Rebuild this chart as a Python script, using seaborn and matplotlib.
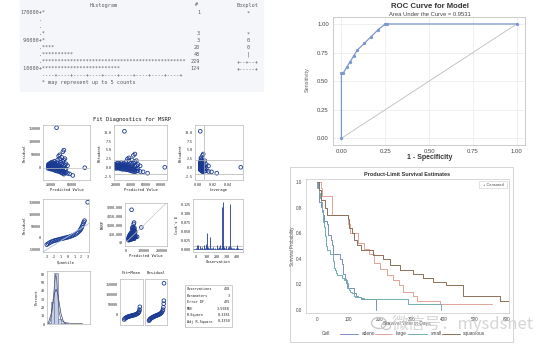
import math

import matplotlib
matplotlib.use("Agg")
import matplotlib.pyplot as plt
from matplotlib.lines import Line2D
from matplotlib.patches import Ellipse, Rectangle
import pandas as pd
import seaborn as sns

# --- data -------------------------------------------------------------------

# line-printer histogram of MSRP (PROC UNIVARIATE)
HIST_ROW_LABELS = ['170000', '', '', '', '90000', '', '', '', '10000']
HIST_COUNTS = [1, 0, 0, 3, 3, 20, 48, 229, 124]
HIST_BOXPLOT = ['*', '', '', '*', '0', '0', '|', '+--+--+', '+-----+']
STARS_PER_COUNT = 5

# fit diagnostics: observations grouped by predicted value
GROUP_PRED = [15000, 17000, 19000, 21000, 23000, 25000, 27000, 29000, 31000, 33000, 35000,
              37000, 39000, 41000, 43000, 45000, 47000, 49000, 52000, 56000, 62000, 85000]
GROUP_LEV = [0.007, 0.006, 0.005, 0.004, 0.004, 0.003, 0.003, 0.003, 0.003, 0.003, 0.004,
             0.004, 0.005, 0.005, 0.006, 0.007, 0.009, 0.011, 0.014, 0.018, 0.025, 0.057]
GROUP_RESID = [
    [2000, 8000, -3000, 12000],
    [5000, -2000, 15000, 9000],
    [0, 10000, -5000, 18000, 4000],
    [3000, -6000, 12000, 20000, 7000],
    [-4000, 6000, 14000, 1000, 22000],
    [-8000, 2000, 10000, 16000, -2000],
    [-9000, 0, 8000, 18000, 25000],
    [-12000, -3000, 5000, 12000],
    [-10000, 0, 9000, 20000, 155000],
    [-14000, -5000, 4000, 15000, 30000],
    [-13000, -6000, 2000, 10000, 45000],
    [-15000, -8000, 0, 12000, 35000, 50000],
    [-18000, -10000, 3000, 20000],
    [-20000, -12000, -2000, 15000, 40000],
    [-22000, -10000, 0, 25000, 62000],
    [-25000, -15000, 5000, 30000, 68000],
    [-20000, -8000, 10000, 35000],
    [-18000, -5000, 15000],
    [-22000, 8000],
    [-24000],
    [-30000],
    [0],
]
GROUP_RSTUD = [
    [0.1, 0.4, -0.2, 0.6],
    [0.3, -0.1, 0.8, 0.5],
    [0.0, 0.5, -0.3, 0.9, 0.2],
    [0.2, -0.3, 0.6, 1.1, 0.4],
    [-0.2, 0.3, 0.7, 0.1, 1.2],
    [-0.4, 0.1, 0.5, 0.8, -0.1],
    [-0.5, 0.0, 0.4, 0.9, 1.3],
    [-0.6, -0.2, 0.3, 0.6],
    [-0.5, 0.0, 0.5, 1.1, 10.3],
    [-0.7, -0.3, 0.2, 0.8, 1.6],
    [-0.7, -0.3, 0.1, 0.5, 2.4],
    [-0.8, -0.4, 0.0, 0.6, 1.9, 2.7],
    [-1.0, -0.5, 0.2, 1.1],
    [-1.1, -0.6, -0.1, 0.8, 2.1],
    [-1.2, -0.5, 0.0, 1.3, 3.4],
    [-1.3, -0.8, 0.3, 1.6, 3.8],
    [-1.1, -0.4, 0.5, 1.9],
    [-1.0, -0.3, 0.8],
    [-1.2, 0.4],
    [-1.3],
    [-1.7],
    [0.0],
]
RSTUD_LIMIT = 2.0
LEVERAGE_CUTOFF = 0.008

QQ_QUANTILE = [-3.0, -2.8, -2.6, -2.4, -2.2, -2.0, -1.8, -1.6, -1.4, -1.2, -1.0, -0.8, -0.6,
               -0.4, -0.2, 0.0, 0.2, 0.4, 0.6, 0.8, 1.0, 1.2, 1.4, 1.6, 1.8, 1.9, 2.0, 2.1,
               2.2, 2.3, 2.4, 2.5, 2.95]
QQ_RESID = [-30000, -26000, -22000, -19000, -16000, -14000, -12000, -10500, -9000, -7500,
            -6000, -4500, -3000, -1500, 0, 1500, 3000, 5000, 7000, 9500, 12000, 15000,
            19000, 24000, 30000, 34000, 39000, 45000, 52000, 60000, 67000, 73000, 152000]
QQ_REF_X = [-3.5, 3.2]
QQ_REF_Y = [-60000, 62000]

COOK_OBS = [3, 8, 15, 22, 30, 38, 45, 52, 60, 68, 75, 82, 90, 97, 104, 110, 120, 127, 136,
            145, 152, 160, 168, 176, 185, 193, 201, 210, 218, 226, 235, 243, 250, 255, 258,
            264, 271, 276, 283, 291, 299, 307, 315, 323, 330, 336, 346, 354, 362, 370, 378,
            386, 394, 402, 410, 418, 425]
COOK_D = [0.004, 0.012, 0.003, 0.013, 0.002, 0.009, 0.003, 0.002, 0.006, 0.002, 0.004, 0.011,
          0.003, 0.014, 0.005, 0.044, 0.006, 0.003, 0.035, 0.004, 0.002, 0.003, 0.005, 0.002,
          0.004, 0.002, 0.012, 0.003, 0.002, 0.006, 0.013, 0.003, 0.004, 0.118, 0.130, 0.008,
          0.006, 0.004, 0.003, 0.009, 0.002, 0.004, 0.006, 0.010, 0.125, 0.005, 0.003, 0.002,
          0.004, 0.003, 0.002, 0.003, 0.004, 0.012, 0.003, 0.002, 0.002]
COOK_CUTOFF = 0.0093

RESID_BIN_MID = [-40000, -20000, 0, 20000, 40000, 60000, 80000, 100000, 120000, 140000, 160000]
RESID_BIN_PCT = [1.5, 27, 62, 6, 1.5, 0.7, 0.3, 0.2, 0.2, 0, 0.2]
NORMAL_X = [-60000, -45000, -30000, -20000, -10000, 0, 10000, 20000, 30000, 45000, 60000]
NORMAL_Y = [0.3, 2.5, 12, 24, 37, 42, 37, 24, 12, 2.5, 0.3]
KERNEL_X = [-50000, -35000, -25000, -15000, -8000, -2000, 3000, 10000, 18000, 28000, 40000,
            60000, 90000, 130000, 160000]
KERNEL_Y = [0, 3, 15, 35, 52, 60, 55, 35, 15, 6, 3, 1.5, 0.8, 0.5, 0.5]

FITMEAN_P = [0.0, 0.05, 0.1, 0.15, 0.2, 0.25, 0.3, 0.35, 0.4, 0.45, 0.5, 0.55, 0.6, 0.65,
             0.7, 0.75, 0.8, 0.85, 0.9, 0.93, 0.96, 0.98, 1.0]
FITMEAN = [-22000, -17000, -14000, -12000, -10000, -8500, -7000, -6000, -5000, -4000, -3000,
           -2000, -1000, 0, 1500, 3000, 5000, 7000, 10000, 13000, 18000, 26000, 40000]
RESID_P = [0.0, 0.03, 0.06, 0.1, 0.15, 0.2, 0.25, 0.3, 0.35, 0.4, 0.45, 0.5, 0.55, 0.6, 0.65,
           0.7, 0.75, 0.8, 0.85, 0.9, 0.93, 0.96, 0.98, 0.99, 1.0]
RESID_SORTED = [-28000, -24000, -21000, -18000, -15000, -13000, -11000, -9000, -7000, -5500,
                -4000, -2500, -1000, 500, 2000, 4000, 6000, 9000, 13000, 19000, 26000, 38000,
                55000, 70000, 155000]

FIT_STAT_NAMES = ['Observations', 'Parameters', 'Error DF', 'MSE', 'R-Square', 'Adj R-Square']
FIT_STAT_VALUES = ['428', '3', '425', '3.59E8', '0.3381', '0.3350']

# ROC curve
ROC_FPR = [0.0, 0.0, 0.01, 0.03, 0.05, 0.07, 0.09, 0.13, 0.17, 0.21, 0.25, 0.26, 1.0]
ROC_TPR = [0.0, 0.57, 0.57, 0.62, 0.67, 0.72, 0.77, 0.83, 0.89, 0.95, 1.0, 1.0, 1.0]
ROC_AUC = '0.9531'

# Kaplan-Meier estimates by cell type
CELL_TYPES = ['adeno', 'large', 'small', 'squamous']
ADENO_T = [0, 3, 7, 8, 12, 18, 19, 24, 31, 35, 36, 45, 48, 51, 52, 73, 80, 83, 84, 90,
           92, 95, 117, 123, 132, 140, 162, 186]
ADENO_S = [1.0, .96, .93, .85, .81, .78, .74, .70, .67, .63, .59, .55, .51, .47, .44, .40,
           .36, .32, .28, .24, .21, .17, .13, .11, .095, .085, .08, 0.0]
LARGE_T = [0, 12, 16, 47, 100, 105, 132, 150, 165, 180, 200, 221, 242, 260, 274, 305, 316,
           389, 553]
LARGE_S = [1.0, .96, .89, .74, .67, .60, .52, .48, .44, .37, .32, .27, .23, .19, .14, .11,
           .07, .04, .04]
SMALL_T = [0, 2, 7, 10, 13, 16, 18, 20, 21, 22, 25, 27, 29, 30, 31, 43, 51, 52, 54, 56,
           59, 61, 63, 80, 87, 95, 99, 100, 103, 105, 110, 117, 118, 122, 139, 151, 153,
           287, 392]
SMALL_S = [1.0, .96, .92, .88, .85, .81, .77, .73, .69, .65, .62, .58, .54, .50, .47, .44,
           .41, .38, .35, .33, .31, .29, .27, .25, .23, .21, .19, .17, .15, .14, .13, .12,
           .11, .10, .09, .085, .08, .04, 0.0]
SQUAMOUS_T = [0, 8, 15, 25, 33, 100, 103, 110, 118, 126, 140, 179, 211, 232, 263, 305, 337,
              368, 410, 463, 579, 640]
SQUAMOUS_S = [1.0, .94, .86, .80, .74, .71, .64, .60, .55, .51, .47, .43, .40, .35, .31,
              .28, .25, .22, .19, .11, .07, .07]

# --- layout helpers ---------------------------------------------------------

W, H = 557, 352
MONO = 'DejaVu Sans Mono'
BLUE = '#1a3a92'
CELL_COLORS = ['#7b8cc4', '#e2a595', '#6fb0ad', '#8c7056']

sns.set_theme(style='white')
plt.rcParams['font.family'] = ['Liberation Sans', 'DejaVu Sans']

fig = plt.figure(figsize=(W / 100, H / 100), dpi=100)
fig.patch.set_facecolor('white')


def px_axes(left, top, right, bottom):
    return fig.add_axes([left / W, 1 - bottom / H, (right - left) / W, (bottom - top) / H])


def px_text(x, y, s, **kw):
    kw.setdefault('va', 'center')
    fig.text(x / W, 1 - y / H, s, **kw)


def px_rect(left, top, right, bottom, **kw):
    fig.add_artist(Rectangle((left / W, 1 - bottom / H), (right - left) / W, (bottom - top) / H,
                             transform=fig.transFigure, **kw))


def diag_axes(box, xlim, ylim, xticks, xlabels, yticks, ylabels, xlabel, ylabel):
    ax = px_axes(*box)
    ax.set_xlim(xlim)
    ax.set_ylim(ylim)
    ax.set_xticks(xticks, xlabels, fontsize=2.4, family=MONO)
    ax.set_yticks(yticks, ylabels, fontsize=2.4, family=MONO)
    ax.tick_params(length=1.0, width=0.4, pad=0.8, colors='#777777', labelcolor='#222222')
    for sp in ax.spines.values():
        sp.set_color('#b8b8b8')
        sp.set_linewidth(0.5)
    ax.set_xlabel(xlabel, fontsize=2.7, family=MONO, labelpad=1.2, color='#222222')
    ax.set_ylabel(ylabel, fontsize=2.7, family=MONO, labelpad=1.2, color='#222222')
    return ax


def open_dots(ax, x, y, size=7):
    sns.scatterplot(x=x, y=y, ax=ax, marker='o', s=size, facecolor='none',
                    edgecolor=BLUE, linewidth=0.6, legend=False)


# --- text histogram block ---------------------------------------------------

px_rect(20, 0, 263, 91, color='#f4f6fa', zorder=0)
txt = dict(family=MONO, fontsize=3.7, color='#5a5a5a')
px_text(90, 5, 'Histogram', **txt)
px_text(197, 5, '#', ha='center', **txt)
px_text(248, 5, 'Boxplot', ha='center', **txt)
for i, (lab, cnt, box) in enumerate(zip(HIST_ROW_LABELS, HIST_COUNTS, HIST_BOXPLOT)):
    y = 12.7 + 7.0 * i
    row = f'{lab:>6}' + ('+' if lab else '.') + '*' * math.ceil(cnt / STARS_PER_COUNT)
    px_text(20, y, row, **txt)
    if cnt:
        px_text(200, y, str(cnt), ha='right', **txt)
    px_text(248, y, box, ha='center', **txt)
px_text(20, 75.7, '       ' + '----+' * 9, **txt)
px_text(20, 82.5, '       * may represent up to 5 counts', **txt)

# --- fit diagnostics panel --------------------------------------------------

pred, resid, rstud, lev = [], [], [], []
for p, lv, rs, st in zip(GROUP_PRED, GROUP_LEV, GROUP_RESID, GROUP_RSTUD):
    pred += [p] * len(rs)
    lev += [lv] * len(rs)
    resid += rs
    rstud += st
diag = pd.DataFrame({'pred': pred, 'resid': resid, 'rstud': rstud, 'lev': lev})
diag['msrp'] = diag['pred'] + diag['resid']

px_text(132, 120, 'Fit Diagnostics for MSRP', ha='center', family=MONO, fontsize=4.0,
        color='#1a1a1a')

rs_ticks = [-2.5, 0, 2.5, 5, 7.5, 10]
rs_labels = ['-2.5', '0.0', '2.5', '5.0', '7.5', '10.0']

ax = diag_axes((43, 125, 90, 180), (5000, 95000), (-47700, 165500),
               [20000, 60000], ['20000', '60000'],
               [0, 50000, 100000, 150000], ['0', '50000', '100000', '150000'],
               'Predicted Value', 'Residual')
ax.axhline(0, color='#c0c0c0', lw=0.5)
open_dots(ax, diag['pred'], diag['resid'])

ax = diag_axes((114, 125, 167, 180), (17000, 88000), (-3.64, 12.1),
               [20000, 40000, 60000, 80000], ['20000', '40000', '60000', '80000'],
               rs_ticks, rs_labels, 'Predicted Value', 'RStudent')
for v in (RSTUD_LIMIT, -RSTUD_LIMIT):
    ax.axhline(v, color='#b0b0b0', lw=0.5)
open_dots(ax, diag['pred'], diag['rstud'])

ax = diag_axes((195, 125, 243, 180), (-0.004, 0.06), (-3.64, 12.1),
               [0, 0.02, 0.04], ['0.00', '0.02', '0.04'],
               rs_ticks, rs_labels, 'Leverage', 'RStudent')
for v in (RSTUD_LIMIT, -RSTUD_LIMIT):
    ax.axhline(v, color='#b0b0b0', lw=0.5)
ax.axvline(LEVERAGE_CUTOFF, color='#b0b0b0', lw=0.5)
open_dots(ax, diag['lev'], diag['rstud'])

ax = diag_axes((43, 199, 89, 252), (-3.55, 3.15), (-61600, 166000),
               [-3, -2, -1, 0, 1, 2, 3], ['-3', '-2', '-1', '0', '1', '2', '3'],
               [-50000, 0, 50000, 100000, 150000], ['-50000', '0', '50000', '100000', '150000'],
               'Quantile', 'Residual')
sns.lineplot(x=QQ_REF_X, y=QQ_REF_Y, ax=ax, color='#a9bfe3', lw=0.6)
open_dots(ax, QQ_QUANTILE, QQ_RESID)

ax = diag_axes((125, 203, 167, 246), (-5500, 228000), (-21000, 224600),
               [0, 100000, 200000], ['0', '100000', '200000'],
               [0, 50000, 100000, 150000, 200000],
               ['$0', '$50,000', '$100,000', '$150,000', '$200,000'],
               'Predicted Value', 'MSRP')
ax.plot([0, 228000], [0, 228000], color='#c4c4c4', lw=0.5)
open_dots(ax, diag['pred'], diag['msrp'])

ax = diag_axes((193, 199, 243, 252), (-29, 457), (-0.0075, 0.139),
               [0, 100, 200, 300, 400], ['0', '100', '200', '300', '400'],
               [0, 0.025, 0.05, 0.075, 0.1, 0.125],
               ['0.000', '0.025', '0.050', '0.075', '0.100', '0.125'],
               'Observation', "Cook's D")
ax.axhline(COOK_CUTOFF, color='#b0b0b0', lw=0.5)
ax.vlines(COOK_OBS, 0, COOK_D, color=BLUE, lw=0.6)
ax.axhline(0, color=BLUE, lw=0.5)

ax = diag_axes((47, 271, 90, 324), (-55000, 205000), (0, 64),
               [], [], [0, 10, 20, 30, 40, 50, 60], ['0', '10', '20', '30', '40', '50', '60'],
               '', 'Percent')
ax.bar(RESID_BIN_MID, RESID_BIN_PCT, width=20000, color='#c5cfe6', edgecolor='#5f6f9c',
       linewidth=0.4)
sns.lineplot(x=NORMAL_X, y=NORMAL_Y, ax=ax, color='#2d3f7e', lw=0.5)
sns.lineplot(x=KERNEL_X, y=KERNEL_Y, ax=ax, color='#5a5a6a', lw=0.5)

spread_y = ([0, 50000, 100000, 150000], ['0', '50000', '100000', '150000'])
ax = diag_axes((120, 279, 143, 325), (-0.27, 1.2), (-49000, 176000),
               [0, 1], ['', ''], *spread_y, '', '')
open_dots(ax, FITMEAN_P, FITMEAN)
ax = diag_axes((145, 279, 167, 325), (-0.27, 1.2), (-49000, 176000),
               [0, 1], ['', ''], [0, 50000, 100000, 150000], ['', '', '', ''], '', '')
ax.tick_params(axis='y', length=0)
open_dots(ax, RESID_P, RESID_SORTED)
px_text(131.5, 273, 'Fit\u2212Mean', ha='center', family=MONO, fontsize=2.8, color='#222222')
px_text(156, 273, 'Residual', ha='center', family=MONO, fontsize=2.8, color='#222222')

px_rect(185, 285, 232, 327, fill=False, ec='#b8b8b8', lw=0.5)
for i, (name, val) in enumerate(zip(FIT_STAT_NAMES, FIT_STAT_VALUES)):
    y = 289.5 + 6.4 * i
    px_text(187, y, name, family=MONO, fontsize=2.5, color='#222222')
    px_text(230, y, val, ha='right', family=MONO, fontsize=2.5, color='#222222')

# --- ROC curve --------------------------------------------------------------

ax = px_axes(333, 17, 525, 145)
ax.set_xlim(-0.048, 1.047)
ax.set_ylim(-0.059, 1.061)
ticks = [0, 0.25, 0.5, 0.75, 1.0]
tick_labels = ['0.00', '0.25', '0.50', '0.75', '1.00']
ax.set_xticks(ticks, tick_labels, fontsize=4.3, color='#444444')
ax.set_yticks(ticks, tick_labels, fontsize=4.3, color='#444444')
ax.tick_params(length=1.5, width=0.4, pad=1.5, colors='#888888', labelcolor='#444444')
ax.grid(color='#e9e9e9', lw=0.5)
for sp in ax.spines.values():
    sp.set_color('#c4c4c4')
    sp.set_linewidth(0.6)
ax.plot([0, 1], [0, 1], color='#bdbdbd', lw=0.6)
roc = pd.DataFrame({'fpr': ROC_FPR, 'tpr': ROC_TPR})
sns.lineplot(data=roc, x='fpr', y='tpr', sort=False, estimator=None, ax=ax,
             color='#7d98cf', lw=0.9, marker='o', markersize=1.6, markeredgecolor='#7d98cf')
ax.set_xlabel('')
ax.set_ylabel('')
px_text(430, 7, 'ROC Curve for Model', ha='center', fontsize=5.6, weight='bold',
        color='#333333')
px_text(430, 14, f'Area Under the Curve = {ROC_AUC}', ha='center', fontsize=4.2,
        color='#444444')
px_text(430, 157.5, '1 - Specificity', ha='center', fontsize=5.0, weight='bold',
        color='#333333')
px_text(307, 80, 'Sensitivity', ha='center', rotation=90, fontsize=4.0, color='#666666')

# --- Kaplan-Meier survival --------------------------------------------------

px_rect(290, 167, 513, 342, fill=False, ec='#cfcfcf', lw=0.6)
ax = px_axes(306, 179, 509, 313)
curves = [(ADENO_T, ADENO_S), (LARGE_T, LARGE_S), (SMALL_T, SMALL_S), (SQUAMOUS_T, SQUAMOUS_S)]
for (t, s), col in zip(curves, CELL_COLORS):
    sns.lineplot(x=t, y=s, ax=ax, drawstyle='steps-post', estimator=None, sort=False,
                 color=col, lw=0.7)
ax.set_xlim(-34, 608)
ax.set_ylim(-0.027, 1.027)
ax.set_xticks([0, 100, 200, 300, 400, 500, 600],
              ['0', '100', '200', '300', '400', '500', '600'], fontsize=3.3)
ax.set_yticks([0, 0.2, 0.4, 0.6, 0.8, 1.0], ['0.0', '0.2', '0.4', '0.6', '0.8', '1.0'],
              fontsize=3.3)
ax.tick_params(length=1.2, width=0.4, pad=1.5, colors='#888888', labelcolor='#444444')
for sp in ax.spines.values():
    sp.set_color('#c8c8c8')
    sp.set_linewidth(0.5)
ax.set_xlabel('')
ax.set_ylabel('')
px_text(407, 174, 'Product-Limit Survival Estimates', ha='center', fontsize=4.0,
        weight='bold', color='#333333')
px_text(292.5, 246, 'Survival Probability', ha='center', rotation=90, fontsize=3.3,
        color='#555555')
px_text(407, 324, 'Survival Time in Days', ha='center', fontsize=3.5, color='#555555')
px_rect(479, 181, 507, 188, fill=False, ec='#cccccc', lw=0.4)
px_text(493, 184.5, '+ Censored', ha='center', fontsize=2.9, color='#444444')

px_text(326, 333.5, 'Cell', ha='center', fontsize=3.4, color='#444444')
legend_pos = [(340, 358, 362), (375, 392, 396), (408, 427, 431), (442, 460, 463)]
for name, col, (x0, x1, xt) in zip(CELL_TYPES, CELL_COLORS, legend_pos):
    fig.add_artist(Line2D([x0 / W, x1 / W], [1 - 333.5 / H] * 2, transform=fig.transFigure,
                          color=col, lw=0.7))
    px_text(xt, 333.5, name, fontsize=3.4, color='#444444')

# --- watermark --------------------------------------------------------------

fig.add_artist(Ellipse((379 / W, 1 - 323 / H), 15 / W, 11 / H, transform=fig.transFigure,
                       fill=False, ec='#c8c8c8', lw=1.0))
fig.add_artist(Ellipse((386 / W, 1 - 326 / H), 9 / W, 7 / H, transform=fig.transFigure,
                       fill=False, ec='#c8c8c8', lw=0.9))
px_text(392, 323.5, '微信号：mysdsnet', fontsize=12,
        family=['Noto Sans CJK SC', 'DejaVu Sans'], color='#cfcfcf', alpha=0.85)

fig.savefig('out.png', dpi=100)
